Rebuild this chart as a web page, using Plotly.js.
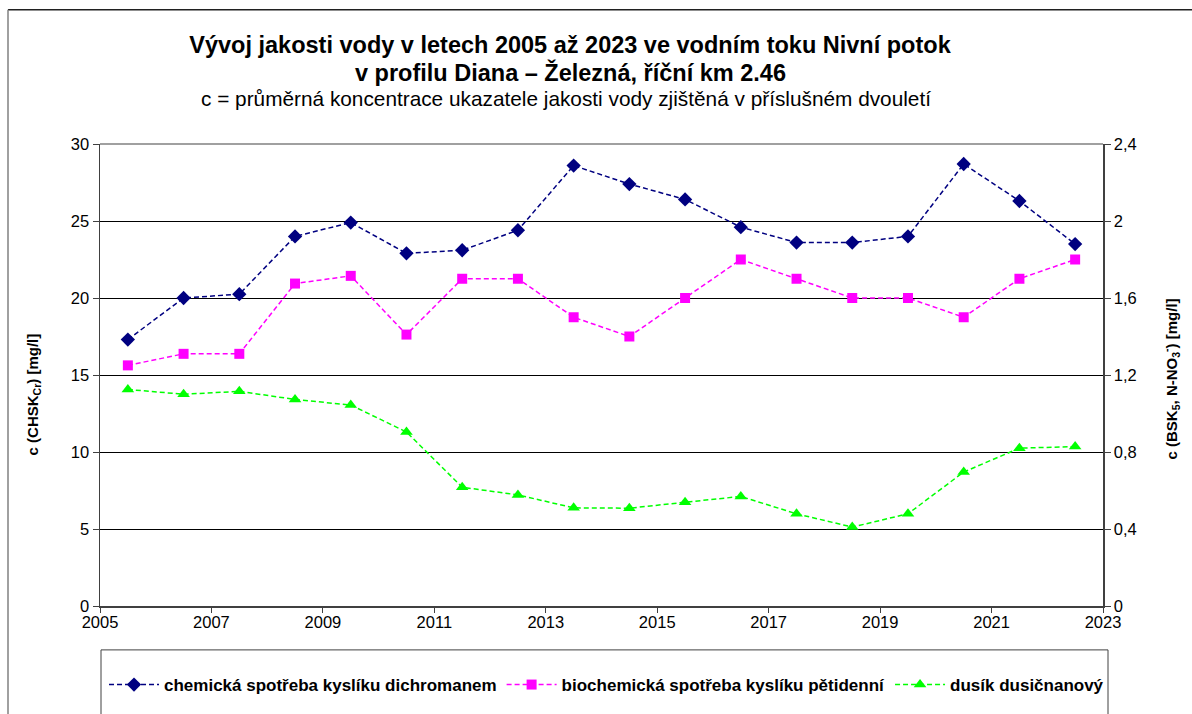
<!DOCTYPE html>
<html>
<head>
<meta charset="utf-8">
<script src="https://cdn.plot.ly/plotly-3.0.1.min.js"></script>
<style>html,body{margin:0;padding:0;background:#fff;}#chart{width:1192px;height:714px;}</style>
</head>
<body>
<div id="chart"></div>
<script>
// Years (midpoints of two-year periods)
const years = [2005.5, 2006.5, 2007.5, 2008.5, 2009.5, 2010.5, 2011.5, 2012.5, 2013.5,
               2014.5, 2015.5, 2016.5, 2017.5, 2018.5, 2019.5, 2020.5, 2021.5, 2022.5];
// Chemical oxygen demand (CHSK_Cr), left axis [mg/l]
const chsk = [17.3, 20.0, 20.25, 24.0, 24.9, 22.9, 23.1, 24.4, 28.6,
              27.4, 26.4, 24.6, 23.6, 23.6, 24.0, 28.7, 26.3, 23.5];
// Biochemical oxygen demand (BSK5), right axis [mg/l]
const bsk = [1.25, 1.31, 1.31, 1.675, 1.715, 1.41, 1.70, 1.70, 1.50,
             1.40, 1.60, 1.80, 1.70, 1.60, 1.60, 1.50, 1.70, 1.80];
// Nitrate nitrogen (N-NO3), right axis [mg/l]
const nitrate = [1.125, 1.10, 1.115, 1.073, 1.044, 0.904, 0.617, 0.577, 0.51,
                 0.508, 0.539, 0.569, 0.479, 0.41, 0.479, 0.696, 0.82, 0.828];

const names = ['chemická spotřeba kyslíku dichromanem',
               'biochemická spotřeba kyslíku pětidenní',
               'dusík dusičnanový'];
const xTicks = [2005, 2007, 2009, 2011, 2013, 2015, 2017, 2019, 2021, 2023];
const yLeftTicks = [0, 5, 10, 15, 20, 25, 30];
const yRightTicks = [0, 0.4, 0.8, 1.2, 1.6, 2, 2.4];

const titleLine1 = 'Vývoj jakosti vody v letech 2005 až 2023 ve vodním toku Nivní potok';
const titleLine2 = 'v profilu Diana – Železná, říční km 2.46';
const subtitle = 'c = průměrná koncentrace ukazatele jakosti vody zjištěná v příslušném dvouletí';
const yLeftTitle = '<b>c (CHSK<sub>Cr</sub>) [mg/l]</b>';
const yRightTitle = '<b>c (BSK<sub>5</sub>, N-NO<sub>3</sub><sup>-</sup>) [mg/l]</b>';

const FONT = 'Liberation Sans, Arial, sans-serif';
const TICKSIZE = 16.5;
const DASH = '5px,3px';

const traces = [
  {x: years, y: chsk, name: names[0], type: 'scatter', mode: 'lines+markers', yaxis: 'y',
   line: {color: '#000080', width: 1.5, dash: DASH},
   marker: {symbol: 'diamond', size: 11, color: '#000080'}},
  {x: years, y: bsk, name: names[1], type: 'scatter', mode: 'lines+markers', yaxis: 'y2',
   line: {color: '#FF00FF', width: 1.5, dash: DASH},
   marker: {symbol: 'square', size: 10, color: '#FF00FF'}},
  {x: years, y: nitrate, name: names[2], type: 'scatter', mode: 'lines+markers', yaxis: 'y2',
   line: {color: '#00FF00', width: 1.5, dash: DASH},
   marker: {symbol: 'triangle-up', size: 11, color: '#00FF00'}}
];

const px2py = p => (607 - p) / 463;   // pixel y -> paper y
const px2px = p => (p - 100) / 1003;  // pixel x -> paper x

const layout = {
  width: 1192, height: 714,
  paper_bgcolor: '#ffffff', plot_bgcolor: '#ffffff',
  font: {family: FONT, color: '#000000', size: 15},
  separators: ', ',
  margin: {l: 100, r: 89, t: 144, b: 107, pad: 0},
  title: {
    text: '<b>' + titleLine1 + '</b>',
    font: {family: FONT, size: 23.5, color: '#000000'},
    x: 570 / 1192, xref: 'container', xanchor: 'center',
    y: 1 - 45 / 714, yref: 'container', yanchor: 'middle'
  },
  annotations: [
    {text: '<b>' + titleLine2 + '</b>', xref: 'paper', yref: 'paper', x: px2px(570), y: px2py(72),
     xanchor: 'center', yanchor: 'middle', showarrow: false,
     font: {family: FONT, size: 23.5, color: '#000000'}},
    {text: subtitle, xref: 'paper', yref: 'paper', x: px2px(566), y: px2py(98),
     xanchor: 'center', yanchor: 'middle', showarrow: false,
     font: {family: FONT, size: 20.8, color: '#000000'}},
    {text: yLeftTitle, xref: 'paper', yref: 'paper', x: px2px(33), y: px2py(395),
     xanchor: 'center', yanchor: 'middle', textangle: -90, showarrow: false,
     font: {family: FONT, size: 15, color: '#000000'}},
    {text: yRightTitle, xref: 'paper', yref: 'paper', x: px2px(1171), y: px2py(380),
     xanchor: 'center', yanchor: 'middle', textangle: -90, showarrow: false,
     font: {family: FONT, size: 15, color: '#000000'}}
  ],
  xaxis: {
    range: [2005, 2023], tickvals: xTicks, ticktext: xTicks.map(String),
    showgrid: false, zeroline: false,
    showline: true, linecolor: '#404040', linewidth: 1.5,
    ticks: 'outside', ticklen: 5, tickcolor: '#404040',
    ticklabelstandoff: -4,
    tickfont: {family: FONT, size: TICKSIZE, color: '#000000'}
  },
  yaxis: {
    range: [0, 30], tickvals: yLeftTicks,
    showgrid: true, gridcolor: '#000000', gridwidth: 1, zeroline: false,
    showline: true, linecolor: '#404040', linewidth: 1.5,
    ticks: 'outside', ticklen: 6, tickcolor: '#404040',
    tickfont: {family: FONT, size: TICKSIZE, color: '#000000'}
  },
  yaxis2: {
    range: [0, 2.4], tickvals: yRightTicks,
    overlaying: 'y', side: 'right',
    showgrid: false, zeroline: false,
    showline: true, linecolor: '#404040', linewidth: 1.5,
    ticks: 'outside', ticklen: 6, tickcolor: '#404040',
    tickfont: {family: FONT, size: TICKSIZE, color: '#000000'}
  },
  showlegend: true,
  legend: {
    orientation: 'h', x: 0.004, xanchor: 'left', y: px2py(685), yanchor: 'middle',
    bgcolor: 'rgba(0,0,0,0)', borderwidth: 0,
    font: {family: FONT, size: 17, color: '#000000', weight: 'bold'},
    itemwidth: 50, tracegroupgap: 0
  },
  shapes: [
    // plot area top border
    {type: 'line', xref: 'paper', yref: 'paper', x0: 0, x1: 1, y0: 1, y1: 1, line: {color: '#808080', width: 1.5}},
    // legend box
    {type: 'rect', xref: 'paper', yref: 'paper', x0: px2px(101), x1: px2px(1108), y0: px2py(730), y1: px2py(651),
     line: {color: '#404040', width: 1}, fillcolor: 'rgba(0,0,0,0)'},
    // outer chart frame
    {type: 'line', xref: 'paper', yref: 'paper', x0: px2px(8), x1: px2px(1200), y0: px2py(9.5), y1: px2py(9.5), line: {color: '#202020', width: 1.5}},
    {type: 'line', xref: 'paper', yref: 'paper', x0: px2px(8), x1: px2px(8), y0: px2py(9.5), y1: px2py(730), line: {color: '#808080', width: 1.5}}
  ]
};

Plotly.newPlot('chart', traces, layout, {displayModeBar: false, staticPlot: true});
</script>
</body>
</html>
